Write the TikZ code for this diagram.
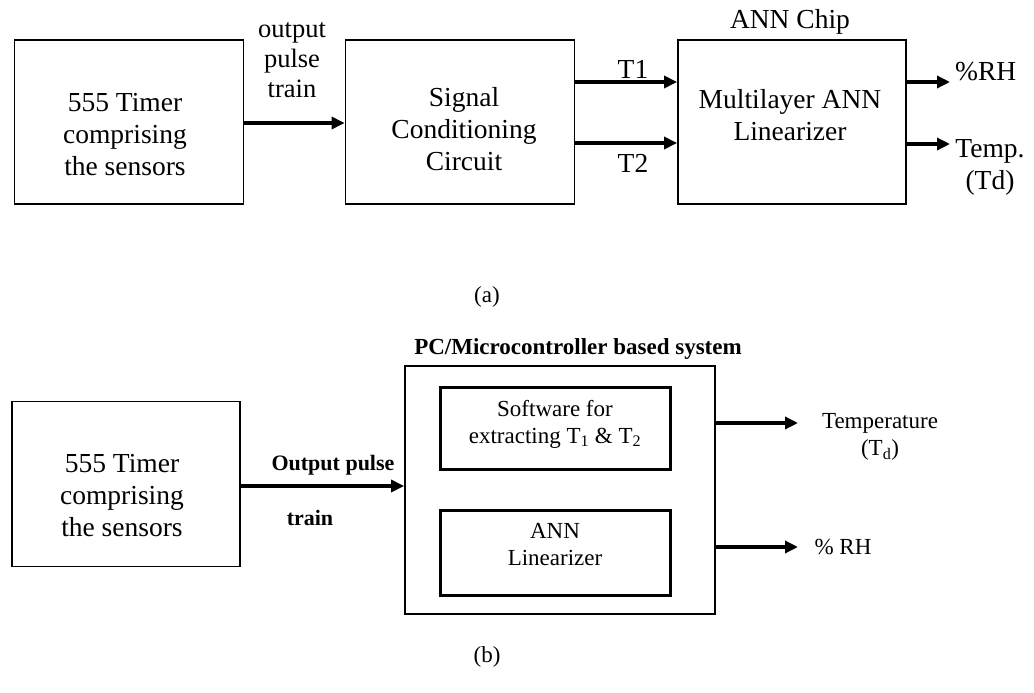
\documentclass[tikz,border=0pt]{standalone}
\usepackage{fontspec}
\setmainfont{Liberation Serif}
\usetikzlibrary{arrows.meta}
\begin{document}
\begin{tikzpicture}[x=1pt,y=-1pt,
  box/.style={draw, line width=1.8pt, rectangle, inner sep=0pt},
  ibox/.style={draw, line width=3pt, rectangle, inner sep=0pt},
  txt/.style={align=center, inner sep=0pt, font=\fontsize{27.5}{32}\selectfont},
  stxt/.style={align=center, inner sep=0pt, font=\fontsize{23}{27}\selectfont},
  arr/.style={line width=3.5pt, -{Triangle[length=13pt,width=12pt]}},
  arrb/.style={line width=4pt, -{Triangle[length=13pt,width=12pt]}}]
\useasboundingbox[fill=white] (0,0) rectangle (1034,693);
% ---------- (a) ----------
\node[box, minimum width=229pt, minimum height=164pt] (a1) at (129,122) {};
\node[txt] (a1t) at (125,135) {555 Timer\\comprising\\the sensors};
\node[box, minimum width=229pt, minimum height=164pt] (a2) at (460,122) {};
\node[txt] (a2t) at (464,129) {Signal\\Conditioning\\Circuit};
\node[box, minimum width=228pt, minimum height=164pt] (a3) at (792,122) {};
\node[txt] (a3t) at (790,115) {Multilayer ANN\\Linearizer};
\node[txt] (chip) at (790,22) {ANN Chip};
\node[txt, font=\fontsize{26.5}{30}\selectfont] (opt) at (292,60) {output\\pulse\\train};
\draw[arr] (a1.east |- 0,123) -- (a2.west |- 0,123);
\draw[arr] ([yshift=40pt]a2.east) -- ([yshift=40pt]a3.west);
\draw[arr] ([yshift=-21pt]a2.east) -- ([yshift=-21pt]a3.west);
\node[txt] (t1) at (633,69) {T1};
\node[txt] (t2) at (633,163) {T2};
\coordinate (rhend) at (950,82);
\coordinate (tdend) at (950,144);
\draw[arr] ([yshift=40pt]a3.east) -- (rhend);
\draw[arr] ([yshift=-22pt]a3.east) -- (tdend);
\node[txt, anchor=west] (rh) at (955,72) {\%RH};
\node[txt] (td) at (990,167) {Temp.\\(Td)};
\node[stxt] (capa) at (487,297) {(a)};
% ---------- (b) ----------
\node[box, minimum width=228pt, minimum height=165pt] (b1) at (126,484) {};
\node[txt] (b1t) at (122,496) {555 Timer\\comprising\\the sensors};
\node[box, minimum width=310pt, minimum height=248pt] (pc) at (560,490) {};
\node[font=\fontsize{23}{26}\selectfont\bfseries, inner sep=0pt] (pct) at (578,349) {PC/Microcontroller based system};
\node[ibox, minimum width=230pt, minimum height=82pt] (sw) at (555,428) {};
\node[stxt] (swt) at (555,424) {Software for\\extracting T\textsubscript{1} \& T\textsubscript{2}};
\node[ibox, minimum width=230pt, minimum height=85pt] (ann) at (555,553) {};
\node[stxt] (annt) at (555,545) {ANN\\Linearizer};
\draw[arr] (b1.east |- 0,486) -- (pc.west |- 0,486);
\node[font=\fontsize{22}{26}\selectfont\bfseries, inner sep=0pt] (op) at (333,465) {Output pulse};
\node[font=\fontsize{22}{26}\selectfont\bfseries, inner sep=0pt] (tr) at (310,518) {train};
\coordinate (tend) at (798,423);
\coordinate (hend) at (798,547);
\draw[arrb] (pc.east |- tend) -- (tend);
\draw[arr] (pc.east |- hend) -- (hend);
\node[stxt] (temp) at (880,437) {Temperature\\(T\textsubscript{d})};
\node[stxt] (rh2) at (843,547) {\% RH};
\node[stxt] (capb) at (487,657) {(b)};
\end{tikzpicture}
\end{document}
